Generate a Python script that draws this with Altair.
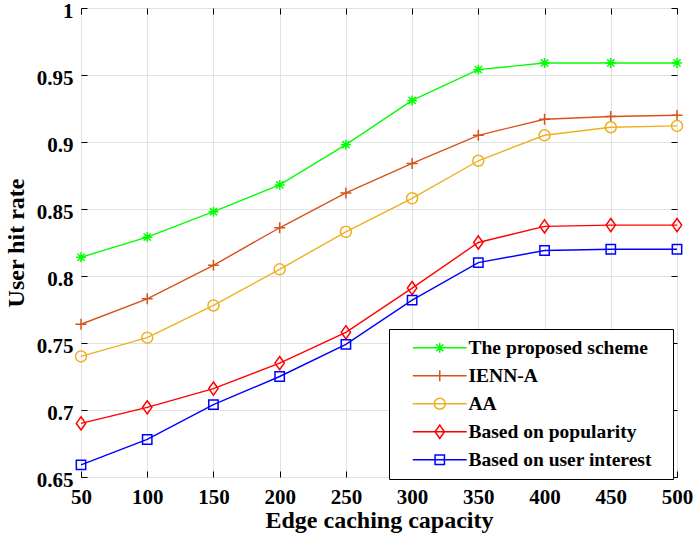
import altair as alt
import pandas as pd

# ---------------- data ----------------
capacity = [50, 100, 150, 200, 250, 300, 350, 400, 450, 500]
series_names = ["The proposed scheme", "IENN-A", "AA",
                "Based on popularity", "Based on user interest"]
proposed = [0.814, 0.829, 0.848, 0.868, 0.898, 0.931, 0.954, 0.959, 0.959, 0.959]
ienn_a = [0.764, 0.783, 0.808, 0.836, 0.862, 0.884, 0.905, 0.917, 0.919, 0.920]
aa = [0.740, 0.754, 0.778, 0.805, 0.833, 0.858, 0.886, 0.905, 0.911, 0.912]
popularity = [0.690, 0.702, 0.716, 0.735, 0.758, 0.791, 0.825, 0.837, 0.838, 0.838]
interest = [0.659, 0.678, 0.704, 0.725, 0.749, 0.782, 0.810, 0.819, 0.820, 0.820]
y_ticks = [0.65, 0.7, 0.75, 0.8, 0.85, 0.9, 0.95, 1.0]

colors = ["#00FF00", "#D95319", "#EDB120", "#FF0000", "#0000FF"]

marker_paths = [
    "M-0.9,0L0.9,0M0,-0.9L0,0.9M-0.65,-0.65L0.65,0.65M-0.65,0.65L0.65,-0.65",
    "M-1,0L1,0M0,-1L0,1",
    "M1,0A1,1,0,1,1,-1,0A1,1,0,1,1,1,0Z",
    "M0,-1.2L0.85,0L0,1.2L-0.85,0Z",
    "M-0.85,-0.85L0.85,-0.85L0.85,0.85L-0.85,0.85Z",
]
legend_paths = ["M-4.9,0L4.9,0" + p for p in marker_paths]

all_series = [proposed, ienn_a, aa, popularity, interest]
rows = []
for name, vals in zip(series_names, all_series):
    for c, v in zip(capacity, vals):
        rows.append({"capacity": c, "rate": v, "series": name})
df = pd.DataFrame(rows)

FONT = "Liberation Serif"
W, H = 596, 469
MSIZE = 121

xs = alt.Scale(domain=[50, 500], nice=False, zero=False)
ys = alt.Scale(domain=[0.65, 1.0], nice=False, zero=False)
cs = alt.Scale(domain=series_names, range=colors)
ss_marker = alt.Scale(domain=series_names, range=marker_paths)
ss_legend = alt.Scale(domain=series_names, range=legend_paths)

lbl = dict(labelFont=FONT, labelFontSize=21, labelFontWeight="bold",
           labelColor="black", labelFlush=False, labelOverlap=False)
ttl = dict(titleFont=FONT, titleFontSize=24, titleFontWeight="bold", titleColor="black")

x_main = alt.Axis(orient="bottom", values=capacity, format="d", grid=True,
                  gridColor="#e2e2e2", gridWidth=1, domain=False, ticks=False,
                  labelPadding=9, title="Edge caching capacity", titlePadding=1,
                  **lbl, **ttl)
y_main = alt.Axis(orient="left", values=y_ticks, format=".2~f", grid=True,
                  gridColor="#e2e2e2", gridWidth=1, domain=False, ticks=False,
                  labelPadding=8, labelOffset=3, title="User hit rate", titlePadding=8,
                  **lbl, **ttl)

tick_style = dict(labels=False, domain=False, grid=False, ticks=True,
                  tickSize=6, tickColor="black", tickWidth=1, title=None)
x_in_bottom = alt.Axis(orient="top", offset=-H, values=capacity, **tick_style)
y_in_left = alt.Axis(orient="right", offset=-W, values=y_ticks, **tick_style)
x_in_top = alt.Axis(orient="bottom", offset=-H, values=capacity, **tick_style)
y_in_right = alt.Axis(orient="left", offset=-W, values=y_ticks, **tick_style)

base = alt.Chart(df)

lines = base.mark_line(strokeWidth=1.4).encode(
    x=alt.X("capacity:Q", scale=xs, axis=x_main),
    y=alt.Y("rate:Q", scale=ys, axis=y_main),
    color=alt.Color("series:N", scale=cs, legend=None),
)

points = base.mark_point(filled=False, size=MSIZE, strokeWidth=1.5, opacity=1).encode(
    x=alt.X("capacity:Q", scale=xs, axis=x_in_bottom),
    y=alt.Y("rate:Q", scale=ys, axis=y_in_left),
    color=alt.Color("series:N", scale=cs, legend=None),
    shape=alt.Shape("series:N", scale=ss_marker, legend=None),
)

leg = alt.Legend(orient="none", legendX=308, legendY=321,
                 title="\u00a0", titleOrient="right", titlePadding=12,
                 titleFontSize=8, titleColor="white",
                 strokeColor="black", fillColor="white", padding=9,
                 cornerRadius=0, labelFont=FONT, labelFontSize=19.5,
                 labelFontWeight="bold", labelColor="black",
                 symbolSize=MSIZE, symbolStrokeWidth=1.5, symbolOpacity=1,
                 symbolOffset=32, labelOffset=19, rowPadding=7,
                 labelLimit=400)

legend_layer = base.mark_point(filled=False, size=MSIZE, strokeWidth=1.5, opacity=0).encode(
    x=alt.X("capacity:Q", scale=xs, axis=x_in_top),
    y=alt.Y("rate:Q", scale=ys, axis=y_in_right),
    color=alt.Color("series:N", scale=cs, legend=leg),
    shape=alt.Shape("series:N", scale=ss_legend, legend=leg),
)

chart = alt.layer(lines, points, legend_layer).resolve_scale(
    color="independent", shape="independent"
).resolve_axis(
    x="independent", y="independent"
).properties(
    width=W, height=H,
    autosize=alt.AutoSizeParams(type="none"),
    padding={"left": 81, "top": 8, "right": 17, "bottom": 71},
).configure_view(
    stroke="black", strokeWidth=1
).configure(
    font=FONT, background="white"
)

chart.save("out.html", embed_options={"renderer": "svg", "actions": False})
